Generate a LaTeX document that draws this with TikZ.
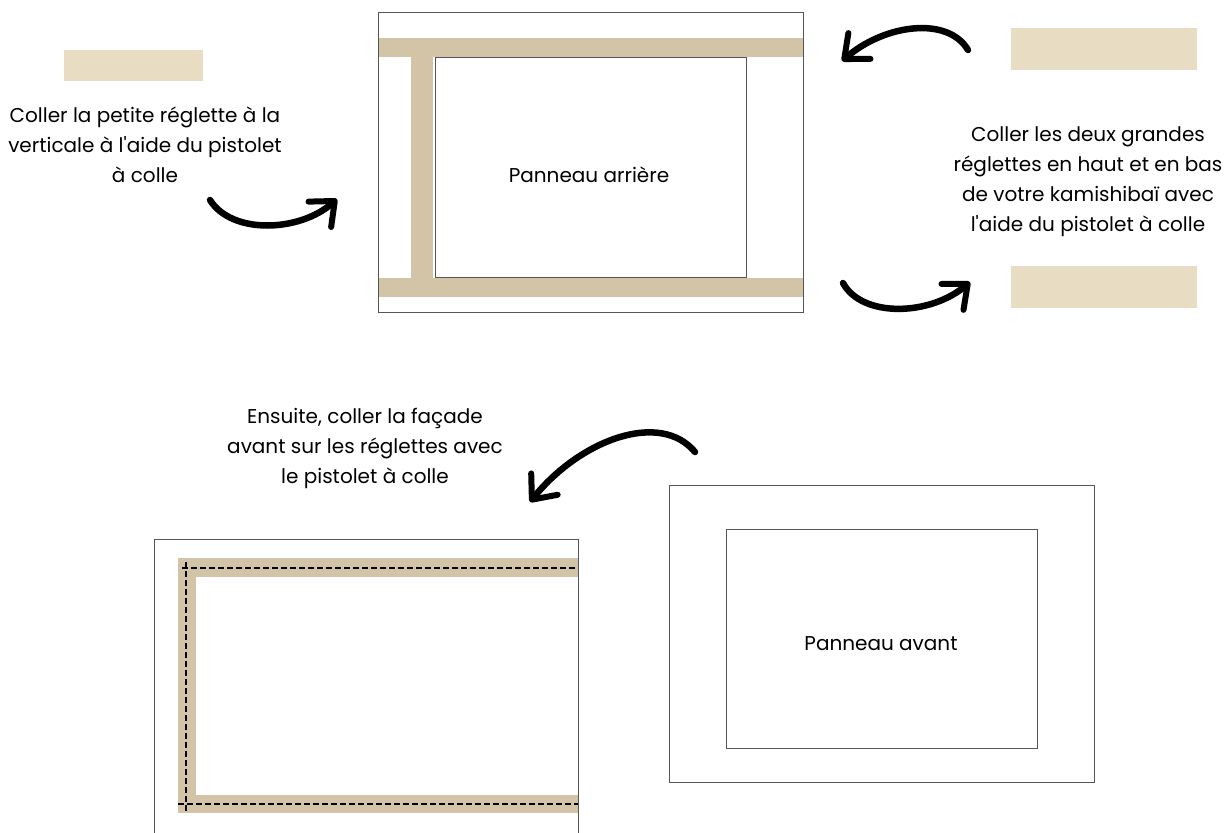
\documentclass[tikz,border=0pt]{standalone}
\usepackage{fontspec}
\setmainfont{Poppins}[Ligatures=TeXOff]
\usetikzlibrary{arrows.meta}
\definecolor{bar}{HTML}{D3C4A7}
\definecolor{lightbar}{HTML}{E8DCC3}
\definecolor{edge}{HTML}{555555}
\begin{document}
\begin{tikzpicture}[x=1pt,y=-1pt,
  panel/.style={draw=edge,line width=1pt},
  strip/.style={fill=bar},
  tag/.style={fill=lightbar},
  txt/.style={align=center,font=\fontsize{20}{30}\selectfont,inner sep=0pt},
  gluel/.style={draw=black,line width=1.4pt,dash pattern=on 6pt off 3pt},
  brush/.style={line width=6.5pt,line cap=round,-{Straight Barb[length=20pt,width=34pt,line width=6pt,round]}}
]
\useasboundingbox (0,0) rectangle (1230,832);
% top panel (back)
\fill[strip] (378,38) rectangle (803,57);
\fill[strip] (378,278) rectangle (803,297);
\fill[strip] (411,57) rectangle (433,278);
\draw[panel] (378,13) rectangle (803,312);
\draw[panel] (435,58) rectangle (746,277);
\node[txt] (back) at (589,175) {Panneau arrière};
% tags
\fill[tag] (64,50) rectangle (203,81);
\fill[tag] (1011,28) rectangle (1197,70);
\fill[tag] (1011,266) rectangle (1197,308);
% texts
\node[txt] (t1) at (145,145) {Coller la petite réglette à la\\verticale à l'aide du pistolet\\à colle};
\node[txt] (t2) at (1088,182) {Coller les deux grandes\\réglettes en haut et en bas\\de votre kamishibaï avec\\l'aide du pistolet à colle};
\node[txt] (t3) at (365,448) {Ensuite, coller la façade\\avant sur les réglettes avec\\le pistolet à colle};
% arrows
\coordinate (a1s) at (210,200); \coordinate (a1e) at (337,199);
\draw[brush] (a1s) .. controls (232,235) and (300,232) .. (a1e);
\coordinate (a2s) at (968,50); \coordinate (a2e) at (842,61);
\draw[brush] (a2s) .. controls (948,16) and (885,24) .. (a2e);
\coordinate (a3s) at (843,283); \coordinate (a3e) at (970,282);
\draw[brush] (a3s) .. controls (862,318) and (930,316) .. (a3e);
\coordinate (a4s) at (695,452); \coordinate (a4e) at (530,502);
\draw[brush] (a4s) .. controls (660,410) and (580,440) .. (a4e);
% bottom-left panel (assembled)
\fill[strip] (178,558) rectangle (578,577);
\fill[strip] (178,795) rectangle (578,813);
\fill[strip] (178,558) rectangle (196,813);
\draw[gluel] (182,568) -- (578,568);
\draw[gluel] (178,804) -- (578,804);
\draw[gluel] (186,562) -- (186,813);
\draw[panel] (154,833) -- (154,539) -- (578,539) -- (578,833);
% right panel (front)
\draw[panel] (669,485) rectangle (1094,782);
\draw[panel] (726,529) rectangle (1037,748);
\node[txt] (front) at (881,644) {Panneau avant};
\end{tikzpicture}
\end{document}
